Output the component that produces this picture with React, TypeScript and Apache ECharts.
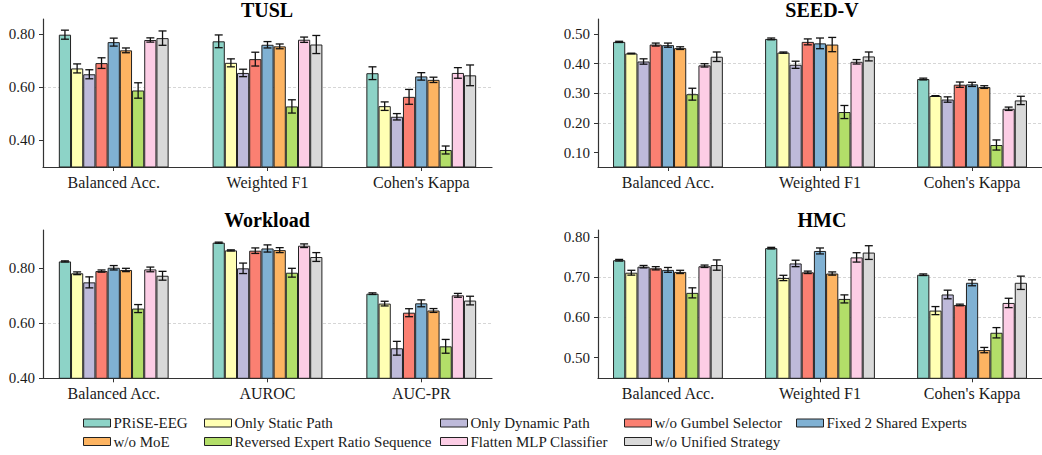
import React, { useEffect, useRef } from "react";
import * as echarts from "echarts";

const FONT = "Liberation Serif";

const methods = [
  "PRiSE-EEG",
  "Only Static Path",
  "Only Dynamic Path",
  "w/o Gumbel Selector",
  "Fixed 2 Shared Experts",
  "w/o MoE",
  "Reversed Expert Ratio Sequence",
  "Flatten MLP Classifier",
  "w/o Unified Strategy",
];

const colors = ["#8dd3c7", "#ffffb3", "#bebada", "#fb8072", "#80b1d3", "#fdb462", "#b3de69", "#fccde5", "#d9d9d9"];

const metricsCls = ["Balanced Acc.", "Weighted F1", "Cohen's Kappa"];
const metricsWorkload = ["Balanced Acc.", "AUROC", "AUC-PR"];
const metricPositions = [0, 1, 2];

// rows = methods, columns = metrics
const tuslMeans = [
  [0.798, 0.773, 0.653],
  [0.671, 0.692, 0.529],
  [0.649, 0.654, 0.489],
  [0.691, 0.706, 0.564],
  [0.770, 0.760, 0.641],
  [0.739, 0.754, 0.628],
  [0.588, 0.528, 0.364],
  [0.778, 0.779, 0.654],
  [0.785, 0.761, 0.645],
];
const tuslErrs = [
  [0.017, 0.024, 0.024],
  [0.017, 0.015, 0.016],
  [0.017, 0.014, 0.012],
  [0.020, 0.026, 0.028],
  [0.015, 0.012, 0.014],
  [0.009, 0.009, 0.010],
  [0.029, 0.025, 0.015],
  [0.008, 0.010, 0.020],
  [0.027, 0.034, 0.039],
];

const seedMeans = [
  [0.473, 0.483, 0.348],
  [0.434, 0.437, 0.291],
  [0.407, 0.396, 0.279],
  [0.464, 0.473, 0.329],
  [0.462, 0.468, 0.330],
  [0.452, 0.464, 0.321],
  [0.297, 0.237, 0.126],
  [0.394, 0.406, 0.248],
  [0.423, 0.424, 0.276],
];
const seedErrs = [
  [0.002, 0.003, 0.003],
  [0.001, 0.002, 0.001],
  [0.009, 0.012, 0.009],
  [0.005, 0.010, 0.009],
  [0.007, 0.018, 0.007],
  [0.0045, 0.024, 0.0045],
  [0.020, 0.022, 0.017],
  [0.0056, 0.0075, 0.0056],
  [0.016, 0.015, 0.014],
];

const workloadMeans = [
  [0.824, 0.892, 0.707],
  [0.781, 0.864, 0.671],
  [0.748, 0.799, 0.509],
  [0.789, 0.863, 0.638],
  [0.801, 0.871, 0.672],
  [0.793, 0.865, 0.646],
  [0.653, 0.783, 0.516],
  [0.795, 0.881, 0.701],
  [0.772, 0.840, 0.682],
];
const workloadErrs = [
  [0.002, 0.002, 0.003],
  [0.005, 0.002, 0.0085],
  [0.020, 0.019, 0.025],
  [0.004, 0.010, 0.0145],
  [0.008, 0.013, 0.0125],
  [0.006, 0.009, 0.007],
  [0.0145, 0.016, 0.025],
  [0.0085, 0.0066, 0.007],
  [0.016, 0.016, 0.0157],
];

const hmcMeans = [
  [0.742, 0.772, 0.706],
  [0.711, 0.698, 0.617],
  [0.726, 0.734, 0.657],
  [0.722, 0.712, 0.631],
  [0.718, 0.765, 0.686],
  [0.713, 0.709, 0.519],
  [0.661, 0.646, 0.562],
  [0.727, 0.749, 0.636],
  [0.730, 0.761, 0.686],
];
const hmcErrs = [
  [0.002, 0.002, 0.002],
  [0.006, 0.0066, 0.010],
  [0.003, 0.008, 0.0107],
  [0.004, 0.003, 0.002],
  [0.006, 0.0074, 0.0074],
  [0.004, 0.004, 0.0066],
  [0.0125, 0.010, 0.0128],
  [0.003, 0.0116, 0.0116],
  [0.0128, 0.017, 0.0165],
];

const tuslTicks = [0.4, 0.6, 0.8];
const seedTicks = [0.1, 0.2, 0.3, 0.4, 0.5];
const workloadTicks = [0.4, 0.6, 0.8];
const hmcTicks = [0.5, 0.6, 0.7, 0.8];

const X_MIN = -0.46;
const X_MAX = 2.46;

const panels = [
  { title: "TUSL", cats: metricsCls, means: tuslMeans, errs: tuslErrs, min: 0.30, max: 0.857, split: 3, ticks: tuslTicks, left: 43, top: 19, width: 449, height: 148, tx: 267, ty: 0 },
  { title: "SEED-V", cats: metricsCls, means: seedMeans, errs: seedErrs, min: 0.052, max: 0.55, split: 5, ticks: seedTicks, left: 598, top: 19, width: 449, height: 148, tx: 822, ty: 0 },
  { title: "Workload", cats: metricsWorkload, means: workloadMeans, errs: workloadErrs, min: 0.40, max: 0.938, split: 3, ticks: workloadTicks, left: 43, top: 230, width: 449, height: 148.3, tx: 267, ty: 210 },
  { title: "HMC", cats: metricsCls, means: hmcMeans, errs: hmcErrs, min: 0.449, max: 0.817, split: 4, ticks: hmcTicks, left: 598, top: 230, width: 449, height: 148.3, tx: 822, ty: 210 },
];

const BW = 12.2;
const legendCols = [83, 204, 440, 624, 796];
const legendRows = [415.5, 434];

export default function App() {
  const ref = useRef<HTMLDivElement>(null);
  useEffect(() => {
    document.body.style.margin = "0";
    const chart = echarts.init(ref.current!, null, { renderer: "svg" });

    const grid: any[] = [];
    const xAxis: any[] = [];
    const yAxis: any[] = [];
    const title: any[] = [];
    const series: any[] = [];

    panels.forEach((p, pi) => {
      grid.push({ left: p.left, top: p.top, width: p.width, height: p.height });
      title.push({
        text: p.title,
        left: p.tx,
        top: p.ty,
        padding: 0,
        textAlign: "center",
        textStyle: { fontFamily: FONT, fontSize: 20, fontWeight: "bold", color: "#000" },
      });
      xAxis.push({
        type: "value",
        gridIndex: pi,
        min: X_MIN,
        max: X_MAX,
        axisLine: { show: true, onZero: false, lineStyle: { color: "#333", width: 1.2 } },
        axisTick: { show: true, length: 4, customValues: metricPositions, lineStyle: { color: "#333", width: 1 } },
        axisLabel: {
          fontFamily: FONT,
          fontSize: 16,
          color: "#1a1a1a",
          margin: 7,
          customValues: metricPositions,
          showMinLabel: true,
          showMaxLabel: true,
          formatter: (v: number) => p.cats[Math.round(v)] ?? "",
        },
        splitLine: { show: false },
      });
      yAxis.push({
        type: "value",
        gridIndex: pi,
        min: p.min,
        max: p.max,
        splitNumber: p.split,
        axisLine: { show: true, onZero: false, lineStyle: { color: "#333", width: 1.2 } },
        axisTick: { show: true, length: 4, customValues: p.ticks, lineStyle: { color: "#333", width: 1 } },
        axisLabel: {
          fontFamily: FONT,
          fontSize: 15,
          color: "#1a1a1a",
          margin: 8,
          customValues: p.ticks,
          showMinLabel: true,
          showMaxLabel: true,
          formatter: (v: number) => v.toFixed(2),
        },
        splitLine: {
          show: true,
          showMinLine: false,
          showMaxLine: false,
          lineStyle: { color: "#cccccc", width: 0.8, type: [3, 2] },
        },
      });
      methods.forEach((name, m) => {
        series.push({
          type: "bar",
          name,
          xAxisIndex: pi,
          yAxisIndex: pi,
          data: metricPositions.map((x, c) => [x, p.means[m][c]]),
          barWidth: BW,
          barGap: "0%",
          itemStyle: { color: colors[m], borderColor: "#222", borderWidth: 1 },
          z: 2,
        });
      });
      const errData: number[][] = [];
      methods.forEach((_, m) => {
        metricPositions.forEach((x, c) => {
          errData.push([x, m, p.means[m][c], p.errs[m][c]]);
        });
      });
      series.push({
        type: "custom",
        xAxisIndex: pi,
        yAxisIndex: pi,
        data: errData,
        encode: { x: 0, y: 2 },
        z: 5,
        renderItem: (params: any, api: any) => {
          const c = api.value(0);
          const m = api.value(1);
          const v = api.value(2);
          const e = api.value(3);
          const base = api.coord([c, v]);
          const x = base[0] + (m - 4) * BW;
          const yt = api.coord([c, v + e])[1];
          const yb = api.coord([c, v - e])[1];
          const st = { stroke: "#111", lineWidth: 1.3 };
          const cw = 4;
          return {
            type: "group",
            children: [
              { type: "line", shape: { x1: x, y1: yt, x2: x, y2: yb }, style: st },
              { type: "line", shape: { x1: x - cw, y1: yt, x2: x + cw, y2: yt }, style: st },
              { type: "line", shape: { x1: x - cw, y1: yb, x2: x + cw, y2: yb }, style: st },
            ],
          };
        },
      });
    });

    const legend = methods.map((name, i) => {
      const row = i < 5 ? 0 : 1;
      const col = i < 5 ? i : i - 5;
      return {
        data: [name],
        left: legendCols[col],
        top: legendRows[row],
        padding: 0,
        icon: "rect",
        itemWidth: 27,
        itemHeight: 8,
        selectedMode: false,
        itemStyle: { borderColor: "#222", borderWidth: 1 },
        textStyle: { fontFamily: FONT, fontSize: 15, color: "#1a1a1a", padding: [0, 0, 0, -2] },
      };
    });

    chart.setOption({
      animation: false,
      backgroundColor: "#ffffff",
      title,
      grid,
      xAxis,
      yAxis,
      legend,
      series,
    });
    return () => chart.dispose();
  }, []);
  return <div ref={ref} style={{ width: 1042, height: 455 }} />;
}
